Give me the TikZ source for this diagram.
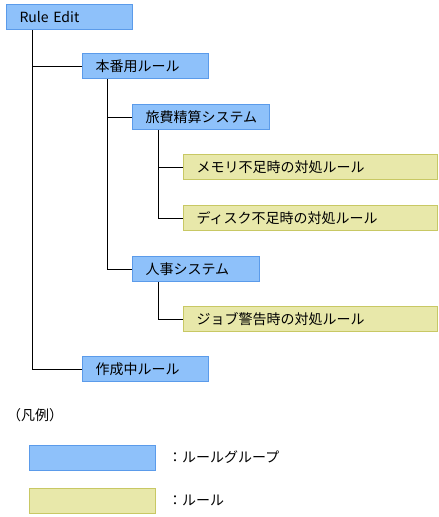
\documentclass[tikz,border=0pt]{standalone}
\usepackage{fontspec}
\setmainfont{Noto Sans CJK JP}
\definecolor{gfill}{HTML}{8EC1FA}
\definecolor{gdraw}{HTML}{5B9BEA}
\definecolor{rfill}{HTML}{E8E8AA}
\definecolor{rdraw}{HTML}{C8C864}
\tikzset{
  box/.style={anchor=north west, minimum height=25pt, inner xsep=13pt, inner ysep=0pt, align=left, line width=1.2pt, font=\fontsize{14pt}{15pt}\selectfont},
  grp/.style={box, draw=gdraw, fill=gfill},
  rule/.style={box, draw=rdraw, fill=rfill},
  conn/.style={draw=black, line width=1pt},
  lbl/.style={anchor=west, inner sep=0pt, font=\fontsize{14pt}{15pt}\selectfont}
}
\begin{document}
\begin{tikzpicture}[x=1pt,y=-1pt]
\useasboundingbox (0,0) rectangle (439,517);
\node[grp, text width=100pt] (re) at (6,4) {Rule Edit};
\node[grp, text width=100pt] (hb) at (82,53) {本番用ルール};
\node[grp, text width=111pt] (ry) at (132,104) {旅費精算システム};
\node[rule, text width=228pt] (m1) at (183,154) {メモリ不足時の対処ルール};
\node[rule, text width=228pt] (m2) at (183,205) {ディスク不足時の対処ルール};
\node[grp, text width=101pt] (jj) at (132,256) {人事システム};
\node[rule, text width=228pt] (m3) at (183,306) {ジョブ警告時の対処ルール};
\node[grp, text width=100pt] (sc) at (82,356) {作成中ルール};
\coordinate (reb) at ([xshift=26pt]re.south west);
\coordinate (hbb) at ([xshift=25pt]hb.south west);
\coordinate (ryb) at ([xshift=26pt]ry.south west);
\coordinate (jjb) at ([xshift=26pt]jj.south west);
\draw[conn] (reb) |- (sc.west);
\draw[conn] (reb) |- (hb.west);
\draw[conn] (hbb) |- (jj.west);
\draw[conn] (hbb) |- (ry.west);
\draw[conn] (ryb) |- (m2.west);
\draw[conn] (ryb) |- (m1.west);
\draw[conn] (jjb) |- (m3.west);
\node[lbl] (hanrei) at (7,415) {（凡例）};
\node[grp, text width=100pt] (lg) at (29,445) {};
\node[rule, text width=100pt] (lr) at (29,488) {};
\node[lbl] (lgt) at (168,457.5) {：ルールグループ};
\node[lbl] (lrt) at (168,500.5) {：ルール};
\end{tikzpicture}
\end{document}
